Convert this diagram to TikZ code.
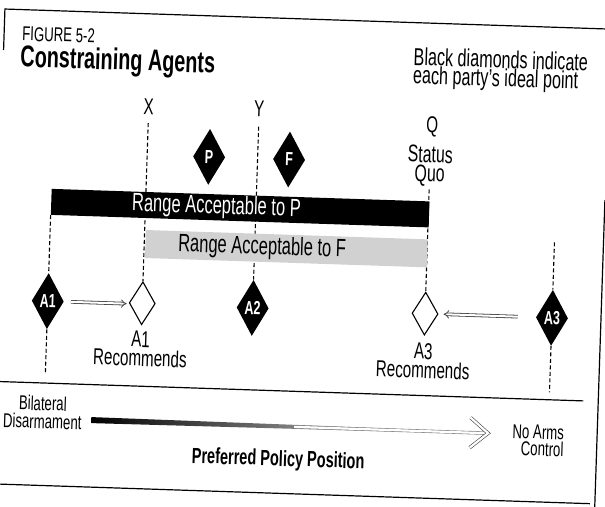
\documentclass[tikz,border=0pt]{standalone}
\usepackage{fontspec}
\setmainfont{Liberation Sans}[FakeStretch=0.66]
\usetikzlibrary{arrows.meta,shapes.geometric}

\tikzset{
  ideal/.style={diamond, fill=black, text=white, font=\fontsize{19}{19}\selectfont\bfseries,
    inner sep=0pt, minimum width=32pt, minimum height=56pt},
  recommend/.style={diamond, draw=black, line width=1.1pt, fill=white, inner sep=0pt,
    minimum width=26pt, minimum height=43pt},
  guide/.style={line width=1.1pt, dash pattern=on 4pt off 2.5pt},
  txt/.style={font=\fontsize{23}{19}\selectfont, inner sep=0pt},
  pull/.style={double=white, double distance=2pt, line width=.8pt, draw=black!75, -{Implies[scale=1.3]}},
  rule/.style={line width=1.2pt}
}

\begin{document}
\begin{tikzpicture}[x=1pt, y=-1pt]
\useasboundingbox (0,0) rectangle (605,506);
\clip (0,0) rectangle (605,506);
\begin{scope}[rotate around={-1.9:(302,253)}, transform shape]
% Drawing frame
\draw[rule] (-3,60) -- (-3,19) -- (620,19);
\draw[rule] (-10,391.5) -- (588,391.5);
\draw[rule] (-10,494) -- (598,494);
\draw[rule] (603,190) -- (603,520);

% Heading and note
\node[anchor=base west, inner sep=0pt, font=\fontsize{20}{20}\selectfont] (fig) at (15,50) {FIGURE 5-2};
\node[anchor=base west, inner sep=0pt, font=\fontsize{30}{30}\selectfont\bfseries] (title) at (14,76) {Constraining Agents};
\node[anchor=base west, inner sep=0pt, align=left, font=\fontsize{24.5}{18.5}\selectfont] (note) at (407,80) {Black diamonds indicate\\each party's ideal point};

% Points on the scale
\node[txt, anchor=base] (labX) at (144,120) {X};
\node[txt, anchor=base] (labY) at (254.5,118) {Y};
\node[txt, anchor=base] (labQ) at (428,128) {Q};
\node[txt, anchor=base, align=center, font=\fontsize{24}{19}\selectfont] (quo) at (427,177.5) {Status\\Quo};

% Ideal points and recommendations
\node[ideal] (P) at (206,160) {P};
\node[ideal] (F) at (286,160) {F};
\node[ideal] (A1) at (49.5,309.5) {A1};
\node[ideal] (A2) at (254.5,309.5) {A2};
\node[ideal] (A3) at (554,309.5) {A3};
\node[recommend] (recA1) at (144,308.5) {};
\node[recommend] (recA3) at (427,309.5) {};
\node[txt, anchor=base, align=center] (textA1) at (143.5,371.5) {A1\\Recommends};
\node[txt, anchor=base, align=center] (textA3) at (426.5,374) {A3\\Recommends};
\coordinate (topA3) at (554,234);
\coordinate (endA1) at (49.5,381);
\coordinate (endA3) at (554,384);

% Dashed guides
\draw[guide, shorten <=8pt] (labX.south) -- (recA1.north);
\draw[guide, shorten <=10pt] (labY.south) -- (A2.north);
\draw[guide, shorten <=3pt] (quo.south) -- (recA3.north);
\draw[guide] (A1.south) -- (endA1);
\draw[guide] (topA3) -- (A3.north);
\draw[guide] (A3.south) -- (endA3);

% Acceptable ranges
\node[fill=black, minimum width=378pt, minimum height=26pt, inner sep=0pt, anchor=north west] (rangeP) at (49.5,197) {};
\node[fill=black!18, minimum width=282pt, minimum height=28pt, inner sep=0pt, anchor=north west] (rangeF) at (145,235) {};
\node[txt, text=white, font=\fontsize{25}{25}\selectfont] (textP) at (215,210) {Range Acceptable to P};
\node[txt, font=\fontsize{25}{25}\selectfont] (textF) at (262,249) {Range Acceptable to F};
\draw[guide] (rangeP.south west) -- (A1.north);

% Moves towards the recommendations
\draw[pull, shorten <=7pt, shorten >=2pt] (A1.east) -- (recA1.west |- A1.east);
\draw[pull, shorten <=18pt, shorten >=5pt] (A3.west) -- (recA3.east |- A3.west);

% Policy axis
\node[anchor=base, align=center, inner sep=0pt, font=\fontsize{20}{18}\selectfont] (bilat) at (48,437) {Bilateral\\Disarmament};
\node[anchor=base east, align=right, inner sep=0pt, font=\fontsize{20}{17}\selectfont] (noarms) at (570,448) {No Arms\\Control};
\node[inner sep=0pt, font=\fontsize{22}{22}\selectfont\bfseries] (pref) at (285,461) {Preferred Policy Position};
\coordinate (barL) at (97,427);
\coordinate (barR) at (494,427);
\shade[left color=black, right color=black!25] (barL) ++(0,-3) -- (400,425.5) -- (400,428.5) -- (97,430) -- cycle;
\draw[double=white, double distance=2.2pt, line width=.6pt, black!50] (300,427) -- ([xshift=-3pt]barR);
\draw[double=white, double distance=2.2pt, line width=.6pt, black!75, line join=miter] (476,412) -- (barR) -- (476,442);
\end{scope}
\end{tikzpicture}
\end{document}
